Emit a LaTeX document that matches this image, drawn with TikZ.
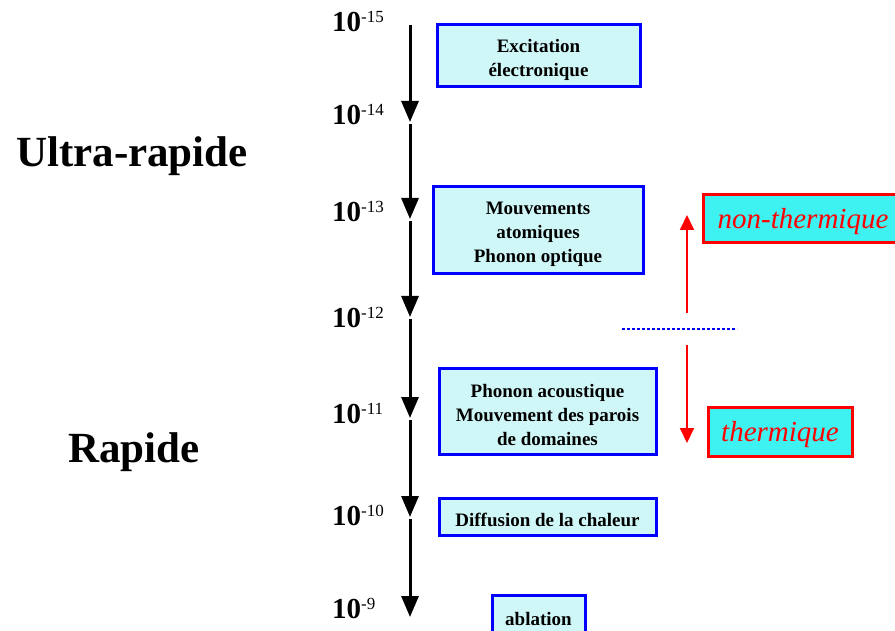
\documentclass[tikz,border=0pt]{standalone}
\usepackage{fontspec}
\setmainfont{Liberation Serif}
\usetikzlibrary{arrows.meta}
\definecolor{boxfill}{HTML}{D0F7F7}
\definecolor{hotfill}{HTML}{3FF2F2}
\definecolor{rouge}{HTML}{FF0000}
\definecolor{bleu}{HTML}{0000FF}
\tikzset{
  procbox/.style={draw=bleu, line width=3pt, fill=boxfill, inner sep=0pt,
    font=\fontsize{19}{24}\selectfont\bfseries, align=center,
    execute at begin node={\rule{0pt}{21pt}}},
  twolines/.style={text height=45pt},
  threelines/.style={text height=69pt},
  regimebox/.style={draw=rouge, line width=3pt, fill=hotfill, inner sep=0pt,
    font=\fontsize{29}{29}\selectfont\itshape, text=rouge,
    text height=26pt, text depth=6pt},
  tick/.style={anchor=base west, inner sep=0pt, font=\fontsize{29}{29}\selectfont\bfseries},
  speed/.style={anchor=base, inner sep=0pt, font=\fontsize{43}{43}\selectfont\bfseries},
  timeline/.style={line width=3pt, -{Triangle[length=21pt,width=17pt]}, shorten <=2pt},
  regimearrow/.style={draw=rouge, line width=2pt, -{Triangle[length=15pt,width=14pt]}},
}
\newcommand{\expo}[1]{10\raisebox{9pt}{\fontsize{17}{17}\selectfont\mdseries #1}}
\begin{document}
\begin{tikzpicture}[x=1pt,y=-1pt]
\useasboundingbox (0,0) rectangle (895,631);

% time axis, one arrow per decade
\coordinate (a0) at (410,25);
\coordinate (a1) at (410,122);
\coordinate (a2) at (410,219);
\coordinate (a3) at (410,317);
\coordinate (a4) at (410,418);
\coordinate (a5) at (410,517);
\coordinate (a6) at (410,617);
\draw[timeline, shorten <=0pt] (a0) -- (a1);
\draw[timeline] (a1) -- (a2);
\draw[timeline] (a2) -- (a3);
\draw[timeline] (a3) -- (a4);
\draw[timeline] (a4) -- (a5);
\draw[timeline] (a5) -- (a6);

% decade labels
\node[tick] (l15) at (332,32) {\expo{-15}};
\node[tick] (l14) at (332,125) {\expo{-14}};
\node[tick] (l13) at (332,222) {\expo{-13}};
\node[tick] (l12) at (332,327) {\expo{-12}};
\node[tick] (l11) at (332,423) {\expo{-11}};
\node[tick] (l10) at (332,525) {\expo{-10}};
\node[tick] (l9) at (332,618) {\expo{-9}};

% speed classes
\node[speed] (ultra) at (132,167) {Ultra-rapide};
\node[speed] (rap) at (134,462) {Rapide};

% processes
\node[procbox, twolines, minimum width=203pt, minimum height=62pt] (exc) at (538.5,56) {Excitation\\électronique};
\node[procbox, threelines, minimum width=210pt, minimum height=87pt] (mouv) at (538,230.5) {Mouvements\\atomiques\\Phonon optique};
\node[procbox, threelines, minimum width=217pt, minimum height=86pt] (phon) at (547.5,411) {Phonon acoustique\\Mouvement des parois\\de domaines};
\node[procbox, minimum width=217pt, minimum height=37pt] (diff) at (547.5,516.5) {Diffusion de la chaleur};
\node[procbox, minimum width=93pt, minimum height=40pt] (abl) at (538.5,615) {ablation};

% thermal / non-thermal regimes
\node[regimebox, minimum width=200pt, minimum height=48pt] (nonth) at (803,219) {non-thermique};
\node[regimebox, minimum width=144pt, minimum height=49pt] (therm) at (780,431.5) {thermique};

\coordinate (sepL) at (622,329);
\coordinate (sepR) at (737,329);
\draw[bleu, line width=2.5pt, dash pattern=on 2.5pt off 2.5pt] (sepL) -- (sepR);

\coordinate (upS) at (687,313);
\coordinate (upE) at (687,215);
\coordinate (dnS) at (687,345);
\coordinate (dnE) at (687,443);
\draw[regimearrow] (upS) -- (upE);
\draw[regimearrow] (dnS) -- (dnE);
\end{tikzpicture}
\end{document}
